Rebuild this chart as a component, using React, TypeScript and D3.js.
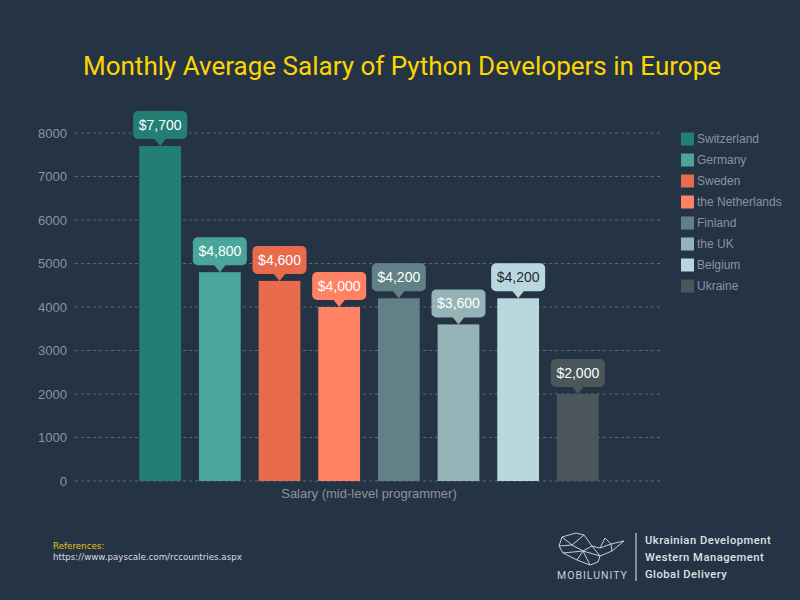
import * as d3 from "d3";

const WIDTH = 800;
const HEIGHT = 600;
const BG = "#253445";
const AXIS_TEXT = "#8c939b";
const GRID = "#5b6878";
const SANS = "'Liberation Sans', Arial, Helvetica, sans-serif";

const category = "Salary (mid-level programmer)";
const countries = ["Switzerland", "Germany", "Sweden", "the Netherlands", "Finland", "the UK", "Belgium", "Ukraine"];
const salaries = [7700, 4800, 4600, 4000, 4200, 3600, 4200, 2000];
const colors = ["#237f74", "#4aa59a", "#e86b4d", "#ff8264", "#628186", "#96b3b8", "#b9d8dd", "#4a5659"];
const labelText = ["#ffffff", "#ffffff", "#ffffff", "#ffffff", "#ffffff", "#ffffff", "#1f2a33", "#ffffff"];
const yTicks = [0, 1000, 2000, 3000, 4000, 5000, 6000, 7000, 8000];
const sloganLines = ["Ukrainian Development", "Western Management", "Global Delivery"];

const PLOT = { left: 75, right: 663, top: 133, bottom: 481 };

// low-poly whale outline for the logo
const whaleEdges: [number, number, number, number][] = [
  [559, 546, 562, 537], [562, 537, 576, 533], [576, 533, 584, 535], [584, 535, 592, 546],
  [592, 546, 600, 548], [600, 548, 605, 538], [605, 538, 611, 544], [611, 544, 624, 541],
  [624, 541, 612, 551], [612, 551, 600, 556], [600, 556, 598, 562], [598, 562, 590, 565],
  [590, 565, 577, 560], [577, 560, 563, 553], [563, 553, 559, 546],
  [562, 537, 572, 545], [572, 545, 584, 535], [572, 545, 583, 551], [583, 551, 592, 546],
  [559, 546, 572, 545], [563, 553, 583, 551], [583, 551, 590, 565], [583, 551, 600, 556],
  [592, 546, 600, 556], [600, 548, 611, 544], [611, 544, 612, 551], [577, 560, 583, 551],
];

export default function App() {
  const x = d3.scaleBand<string>().domain([category]).range([PLOT.left, PLOT.right]).paddingInner(0).paddingOuter(0.14);
  const xInner = d3.scaleBand<string>().domain(countries).range([0, x.bandwidth()]).paddingInner(0.3).paddingOuter(0);
  const y = d3.scaleLinear().domain([0, 8000]).range([PLOT.bottom, PLOT.top]);
  const fmt = d3.format("$,");

  return (
    <svg width={WIDTH} height={HEIGHT} style={{ display: "block", position: "fixed", left: 0, top: 0 }}>
      <rect width={WIDTH} height={HEIGHT} fill={BG} />
      <text x={402} y={75} fill="#ffd400" fontFamily="Roboto" fontSize={26} textAnchor="middle">
        Monthly Average Salary of Python Developers in Europe
      </text>

      {yTicks.map((t) => (
        <g key={t}>
          <line x1={PLOT.left} x2={PLOT.right} y1={y(t)} y2={y(t)} stroke={GRID} strokeDasharray="3 3" />
          <text x={67} y={y(t)} dy="0.35em" fill={AXIS_TEXT} fontFamily={SANS} fontSize={13} textAnchor="end">
            {t}
          </text>
        </g>
      ))}
      <text x={(PLOT.left + PLOT.right) / 2} y={498} fill={AXIS_TEXT} fontFamily={SANS} fontSize={13} textAnchor="middle">
        {category}
      </text>

      {countries.map((c, i) => {
        const bx = (x(category) ?? 0) + (xInner(c) ?? 0);
        const bw = xInner.bandwidth();
        const top = y(salaries[i]);
        const cx = bx + bw / 2;
        const boxW = 54;
        const boxH = 28;
        const boxBottom = top - 7;
        return (
          <g key={c}>
            <rect x={bx} y={top} width={bw} height={PLOT.bottom - top} fill={colors[i]} />
            <rect x={cx - boxW / 2} y={boxBottom - boxH} width={boxW} height={boxH} rx={5} fill={colors[i]} />
            <path d={`M${cx - 6},${boxBottom - 0.5} L${cx},${top} L${cx + 6},${boxBottom - 0.5} Z`} fill={colors[i]} />
            <text x={cx} y={boxBottom - boxH / 2} dy="0.36em" fill={labelText[i]} fontFamily={SANS} fontSize={14} textAnchor="middle">
              {fmt(salaries[i])}
            </text>
          </g>
        );
      })}

      {countries.map((c, i) => (
        <g key={c} transform={`translate(681 ${139 + i * 21})`}>
          <rect x={0} y={-6.5} width={13} height={13} fill={colors[i]} />
          <text x={16} y={0} dy="0.35em" fill={AXIS_TEXT} fontFamily={SANS} fontSize={12}>
            {c}
          </text>
        </g>
      ))}

      <text x={53} y={549} fill="#e6c419" fontFamily="DejaVu Sans" fontSize={8.7}>
        References:
      </text>
      <text x={53} y={560} fill="#d9dde2" fontFamily="DejaVu Sans" fontSize={8.7}>
        https://www.payscale.com/rccountries.aspx
      </text>

      <g stroke="#c9cdd1" strokeWidth={1} fill="none" strokeLinejoin="round">
        {whaleEdges.map((e, i) => (
          <line key={i} x1={e[0]} y1={e[1]} x2={e[2]} y2={e[3]} />
        ))}
      </g>
      <text x={557} y={579} fill="#c9cdd1" fontFamily="Roboto" fontSize={10.5} letterSpacing={1}>
        MOBILUNITY
      </text>
      <line x1={636} x2={636} y1={533} y2={581} stroke="#c9cdd1" strokeWidth={1.2} />
      {sloganLines.map((s, i) => (
        <text key={s} x={645} y={544 + i * 17} fill="#dfe2e5" fontFamily="Roboto" fontSize={11.2} fontWeight={500} letterSpacing={0.5}>
          {s}
        </text>
      ))}
    </svg>
  );
}
